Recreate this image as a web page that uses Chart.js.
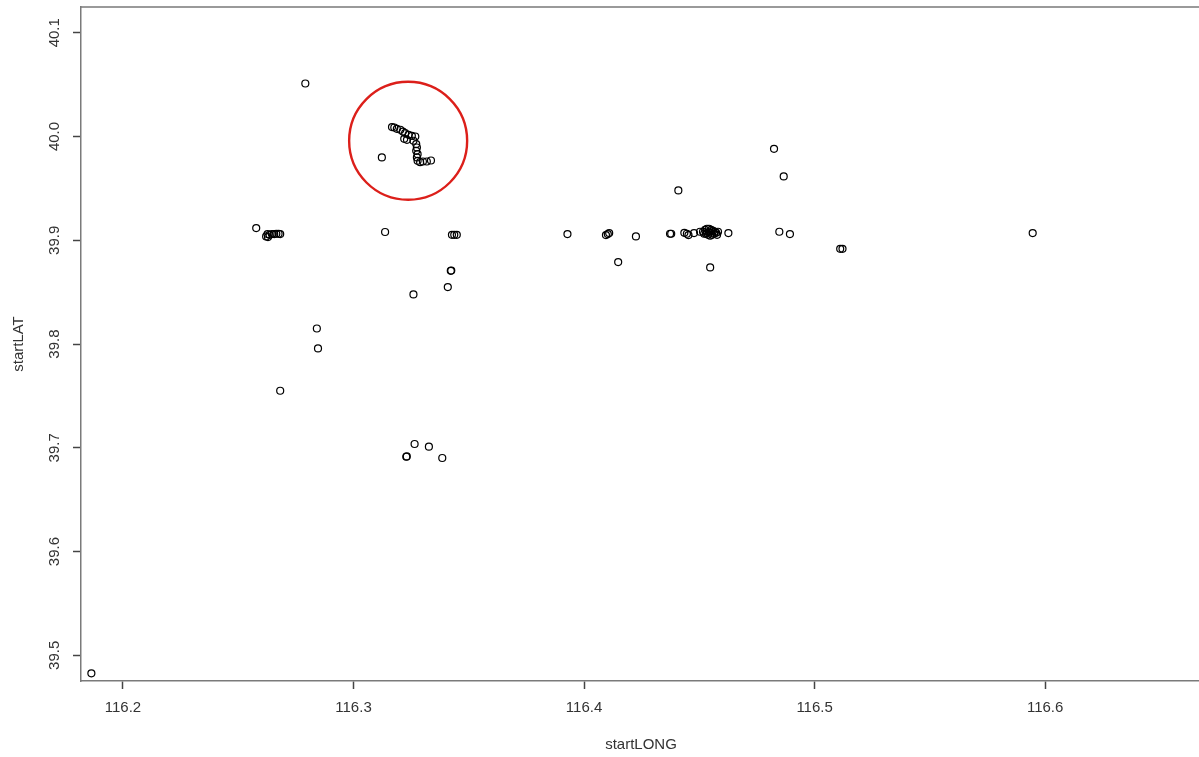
<!DOCTYPE html>
<html>
<head>
<meta charset="utf-8">
<script src="https://cdn.jsdelivr.net/npm/chart.js@4/dist/chart.umd.min.js"></script>
<style>
  html, body { margin: 0; padding: 0; background: #fff; overflow: hidden; }
  #wrap { width: 1203px; height: 757px; position: relative; }
</style>
</head>
<body>
<div id="wrap"><canvas id="plot"></canvas></div>
<script>
// trip start coordinates
const startLONG = [
    116.1863, 116.2791,
    // cluster near 40.0
    116.3167, 116.3177, 116.3188, 116.3203, 116.3214, 116.3224, 116.3239, 116.3253,
    116.3268, 116.3220, 116.3232, 116.3260, 116.3272, 116.3275, 116.3272, 116.3278,
    116.3275, 116.3278, 116.3289, 116.3301, 116.3318, 116.3336, 116.3123,
    // west / south
    116.2578, 116.2621, 116.2629, 116.2636, 116.2646, 116.2656, 116.2665, 116.2675,
    116.2682, 116.2627, 116.3137, 116.3427, 116.3437, 116.3448, 116.3422, 116.3424,
    116.3409, 116.3260, 116.2841, 116.2846, 116.2682, 116.3265, 116.3327, 116.3229,
    116.3231, 116.3385,
    // east
    116.3928, 116.4095, 116.4109, 116.4103, 116.4225, 116.4148, 116.4409, 116.4373,
    116.4378, 116.4435, 116.4446, 116.4453, 116.4477,
    116.4516, 116.4525, 116.4533, 116.4542, 116.4551, 116.4560, 116.4568, 116.4529,
    116.4538, 116.4547, 116.4555, 116.4564, 116.4573, 116.4542, 116.4551, 116.4521,
    116.4577, 116.4503, 116.4581, 116.4533,
    116.4626, 116.4547, 116.4824, 116.4866, 116.4847, 116.4893, 116.5111, 116.5121,
    116.5946,
];
const startLAT = [
    39.4827, 40.0511,
    40.0091, 40.0087, 40.0074, 40.0065, 40.0048, 40.0033, 40.0016, 40.0007,
    40.0000, 39.9978, 39.9968, 39.9959, 39.9927, 39.9894, 39.9862, 39.9830,
    39.9798, 39.9766, 39.9753, 39.9759, 39.9759, 39.9769, 39.9798,
    39.9118, 39.9037, 39.9031, 39.9053, 39.9060, 39.9060, 39.9063, 39.9063,
    39.9060, 39.9060, 39.9080, 39.9053, 39.9053, 39.9053, 39.8706, 39.8709,
    39.8549, 39.8478, 39.8150, 39.7958, 39.7550, 39.7037, 39.7011, 39.6914,
    39.6917, 39.6902,
    39.9060, 39.9050, 39.9069, 39.9060, 39.9037, 39.8790, 39.9480, 39.9063,
    39.9063, 39.9072, 39.9063, 39.9050, 39.9069,
    39.9082, 39.9101, 39.9111, 39.9111, 39.9101, 39.9092, 39.9082, 39.9063,
    39.9053, 39.9044, 39.9053, 39.9063, 39.9072, 39.9082, 39.9072, 39.9063,
    39.9053, 39.9082, 39.9082, 39.9072,
    39.9069, 39.8738, 39.9881, 39.9615, 39.9082, 39.9060, 39.8918, 39.8918,
    39.9069,
];

// highlighted group
const ringCenter = { x: 116.3237, y: 39.9959 };
const RING_RADIUS = 59;

const xTicks = [116.2, 116.3, 116.4, 116.5, 116.6];
const yTicks = [39.5, 39.6, 39.7, 39.8, 39.9, 40.0, 40.1];

const X_MIN = 116.1818, X_MAX = 116.6676;
const Y_MIN = 39.4753, Y_MAX = 40.1248;

const FONT = 'Liberation Sans, Arial, sans-serif';
const TEXT = '#333';
const BOX = '#7a7a7a';

const points = startLONG.map((x, i) => ({ x, y: startLAT[i] }));

// R-style frame: top edge of box + rotated y labels
const framePlugin = {
    id: 'frame',
    afterDraw(chart) {
        const { ctx, chartArea: a, scales: { y } } = chart;
        ctx.save();
        ctx.strokeStyle = BOX;
        ctx.lineWidth = 1.5;
        ctx.beginPath();
        ctx.moveTo(a.left, a.top);
        ctx.lineTo(a.right, a.top);
        ctx.lineTo(a.right, a.bottom);
        ctx.stroke();

        ctx.fillStyle = TEXT;
        ctx.font = `15px ${FONT}`;
        ctx.textAlign = 'center';
        ctx.textBaseline = 'middle';
        yTicks.forEach(v => {
            ctx.save();
            ctx.translate(55, y.getPixelForValue(v));
            ctx.rotate(-Math.PI / 2);
            ctx.fillText(v.toFixed(1), 0, 0);
            ctx.restore();
        });
        ctx.restore();
    },
};

new Chart(document.getElementById('plot'), {
    type: 'scatter',
    data: {
        datasets: [
            {
                data: points,
                pointStyle: 'circle',
                pointRadius: 3.5,
                pointBorderWidth: 1.2,
                borderColor: '#000',
                backgroundColor: 'rgba(0,0,0,0)',
            },
            {
                data: [ringCenter],
                pointStyle: 'circle',
                pointRadius: RING_RADIUS,
                pointBorderWidth: 2.4,
                borderColor: '#dc1f1a',
                backgroundColor: 'rgba(0,0,0,0)',
            },
        ],
    },
    options: {
        responsive: true,
        maintainAspectRatio: false,
        animation: false,
        events: [],
        layout: { autoPadding: false, padding: { left: 0, top: 7, right: 2, bottom: 0 } },
        plugins: { legend: { display: false }, tooltip: { enabled: false } },
        scales: {
            x: {
                type: 'linear',
                min: X_MIN,
                max: X_MAX,
                afterBuildTicks: s => { s.ticks = xTicks.map(value => ({ value })); },
                afterFit: s => { s.height = 76; },
                grid: { drawOnChartArea: false, drawTicks: true, tickLength: 8, tickColor: '#444', tickWidth: 1.5 },
                border: { display: true, color: BOX, width: 1.5 },
                ticks: {
                    color: TEXT, font: { family: FONT, size: 15 }, padding: 10,
                    maxRotation: 0, autoSkip: false,
                    callback: v => v.toFixed(1),
                },
                title: {
                    display: true, text: 'startLONG', color: TEXT,
                    font: { family: FONT, size: 15 }, padding: { top: 0, bottom: 3 },
                },
            },
            y: {
                type: 'linear',
                min: Y_MIN,
                max: Y_MAX,
                afterBuildTicks: s => { s.ticks = yTicks.map(value => ({ value })); },
                afterFit: s => { s.width = 81; },
                grid: { drawOnChartArea: false, drawTicks: true, tickLength: 8, tickColor: '#444', tickWidth: 1.5 },
                border: { display: true, color: BOX, width: 1.5 },
                ticks: { display: false },
                title: {
                    display: true, text: 'startLAT', color: TEXT,
                    font: { family: FONT, size: 15 }, padding: { top: 10, bottom: 0 },
                },
            },
        },
    },
    plugins: [framePlugin],
});
</script>
</body>
</html>
